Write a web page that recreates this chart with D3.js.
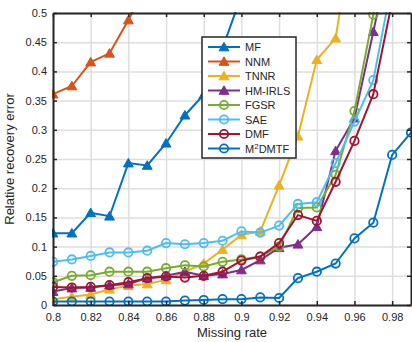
<!DOCTYPE html>
<html>
<head>
<meta charset="utf-8">
<script src="https://cdn.jsdelivr.net/npm/d3@7/dist/d3.min.js"></script>
<style>
  body { margin: 0; background: #fff; }
  svg { font-family: "Liberation Sans", Arial, Helvetica, sans-serif; }
</style>
</head>
<body>
<div id="chart"></div>
<script>
// missing rates (x)
const rates = [0.80, 0.81, 0.82, 0.83, 0.84, 0.85, 0.86, 0.87, 0.88, 0.89,
               0.90, 0.91, 0.92, 0.93, 0.94, 0.95, 0.96, 0.97, 0.98, 0.99];

// relative recovery error per method (series stop once they leave the plot)
const mfErr     = [0.123, 0.123, 0.158, 0.152, 0.243, 0.239, 0.277, 0.325, 0.360, 0.440, 0.530];
const nnmErr    = [0.361, 0.375, 0.416, 0.431, 0.488, 0.550];
const tnnrErr   = [0.010, 0.014, 0.018, 0.027, 0.033, 0.036, 0.043, 0.057, 0.071, 0.095,
                   0.120, 0.126, 0.205, 0.289, 0.420, 0.457, 0.660];
const hmirlsErr = [0.023, 0.029, 0.030, 0.034, 0.036, 0.046, 0.050, 0.057, 0.050, 0.053,
                   0.060, 0.077, 0.098, 0.104, 0.134, 0.264, 0.320, 0.468, 0.620];
const fgsrErr   = [0.039, 0.050, 0.051, 0.057, 0.057, 0.057, 0.063, 0.068, 0.066, 0.074,
                   0.078, 0.083, 0.100, 0.166, 0.167, 0.223, 0.332, 0.497, 0.650];
const saeErr    = [0.074, 0.078, 0.084, 0.090, 0.090, 0.093, 0.106, 0.104, 0.106, 0.110,
                   0.126, 0.124, 0.136, 0.173, 0.176, 0.243, 0.314, 0.385, 0.553];
const dmfErr    = [0.031, 0.030, 0.031, 0.034, 0.039, 0.046, 0.049, 0.047, 0.050, 0.057,
                   0.076, 0.083, 0.106, 0.154, 0.144, 0.211, 0.281, 0.361, 0.520];
const m2dmtfErr = [0.006, 0.006, 0.006, 0.006, 0.006, 0.006, 0.006, 0.0075, 0.0086, 0.010,
                   0.010, 0.013, 0.012, 0.046, 0.057, 0.071, 0.114, 0.141, 0.257, 0.295];

const xTicks = [0.80, 0.82, 0.84, 0.86, 0.88, 0.90, 0.92, 0.94, 0.96, 0.98];
const xTickLabels = ['0.8', '0.82', '0.84', '0.86', '0.88', '0.9', '0.92', '0.94', '0.96', '0.98'];
const yTicks = [0, 0.05, 0.1, 0.15, 0.2, 0.25, 0.3, 0.35, 0.4, 0.45, 0.5];
const yTickLabels = ['0', '0.05', '0.1', '0.15', '0.2', '0.25', '0.3', '0.35', '0.4', '0.45', '0.5'];

const series = [
  { name: 'MF',      values: mfErr,     color: '#0072BD', marker: 'tri' },
  { name: 'NNM',     values: nnmErr,    color: '#D95319', marker: 'tri' },
  { name: 'TNNR',    values: tnnrErr,   color: '#EDB120', marker: 'tri' },
  { name: 'HM-IRLS', values: hmirlsErr, color: '#7E2F8E', marker: 'tri' },
  { name: 'FGSR',    values: fgsrErr,   color: '#77AC30', marker: 'circ' },
  { name: 'SAE',     values: saeErr,    color: '#4DBEEE', marker: 'circ' },
  { name: 'DMF',     values: dmfErr,    color: '#A2142F', marker: 'circ' },
  { name: 'M2DMTF',  values: m2dmtfErr, color: '#0072BD', marker: 'circ' }
];

const W = 412, H = 342;
const margin = { top: 13, right: 1, bottom: 37, left: 53 };
const width = W - margin.left - margin.right;
const height = H - margin.top - margin.bottom;

const svg = d3.select('#chart').append('svg')
  .attr('width', W).attr('height', H);

const g = svg.append('g').attr('transform', `translate(${margin.left},${margin.top})`);

const x = d3.scaleLinear().domain([0.8, 0.99]).range([0, width]);
const y = d3.scaleLinear().domain([0, 0.5]).range([height, 0]);

// Grid
g.append('g')
  .call(d3.axisBottom(x).tickValues(xTicks).tickSize(height).tickFormat(''))
  .call(s => s.select('.domain').remove())
  .selectAll('line').attr('stroke', '#dedede').attr('stroke-width', 1.5);
g.append('g')
  .call(d3.axisLeft(y).tickValues(yTicks).tickSize(-width).tickFormat(''))
  .call(s => s.select('.domain').remove())
  .selectAll('line').attr('stroke', '#dedede').attr('stroke-width', 1.5);

// Lines + markers, clipped to plot
svg.append('clipPath').attr('id', 'clip')
  .append('rect').attr('x', -1).attr('y', -1).attr('width', width + 2).attr('height', height + 2);
const plot = g.append('g').attr('clip-path', 'url(#clip)');

const line = d3.line().x(d => x(d[0])).y(d => y(d[1]));
const tri = d3.symbol().type(d3.symbolTriangle).size(42);

series.forEach(s => {
  const pts = s.values.map((v, i) => [rates[i], v]);
  plot.append('path')
    .datum(pts)
    .attr('fill', 'none')
    .attr('stroke', s.color)
    .attr('stroke-width', 2)
    .attr('d', line);
  if (s.marker === 'tri') {
    plot.selectAll(null).data(pts).enter().append('path')
      .attr('d', tri)
      .attr('transform', d => `translate(${x(d[0])},${y(d[1]) + 1})`)
      .attr('fill', s.color).attr('stroke', s.color).attr('stroke-width', 1);
  } else {
    plot.selectAll(null).data(pts).enter().append('circle')
      .attr('cx', d => x(d[0])).attr('cy', d => y(d[1])).attr('r', 4.2)
      .attr('fill', 'none').attr('stroke', s.color).attr('stroke-width', 1.8);
  }
});

// Axes (box with inward ticks)
const axisColor = '#262626';
const axBottom = g.append('g').attr('transform', `translate(0,${height})`)
  .call(d3.axisBottom(x).tickValues(xTicks).tickSizeInner(-4).tickSizeOuter(0)
    .tickFormat((d, i) => xTickLabels[i]).tickPadding(8));
const axLeft = g.append('g')
  .call(d3.axisLeft(y).tickValues(yTicks).tickSizeInner(-4).tickSizeOuter(0)
    .tickFormat((d, i) => yTickLabels[i]).tickPadding(6));
const axTop = g.append('g')
  .call(d3.axisTop(x).tickValues(xTicks).tickSizeInner(-4).tickSizeOuter(0).tickFormat(''));
const axRight = g.append('g').attr('transform', `translate(${width},0)`)
  .call(d3.axisRight(y).tickValues(yTicks).tickSizeInner(-4).tickSizeOuter(0).tickFormat(''));

[axBottom, axLeft, axTop, axRight].forEach(a => {
  a.select('.domain').attr('stroke', axisColor).attr('stroke-width', 2);
  a.selectAll('.tick line').attr('stroke', axisColor).attr('stroke-width', 1.5);
  a.selectAll('text').attr('fill', axisColor).style('font-size', '11px');
});

// Axis labels
g.append('text')
  .attr('x', width / 2).attr('y', height + 32)
  .attr('text-anchor', 'middle').attr('fill', axisColor)
  .style('font-size', '13px').text('Missing rate');
g.append('text')
  .attr('transform', `translate(-39,${height / 2}) rotate(-90)`)
  .attr('text-anchor', 'middle').attr('fill', axisColor)
  .style('font-size', '13px').text('Relative recovery error');

// Legend
const legend = svg.append('g').attr('transform', 'translate(202,37)');
legend.append('rect')
  .attr('width', 94).attr('height', 121)
  .attr('fill', '#fff').attr('stroke', axisColor).attr('stroke-width', 1.5);

series.forEach((s, i) => {
  const ly = 10 + i * 14.5;
  const row = legend.append('g').attr('transform', `translate(0,${ly})`);
  row.append('line').attr('x1', 6).attr('x2', 38).attr('y1', 0).attr('y2', 0)
    .attr('stroke', s.color).attr('stroke-width', 2);
  if (s.marker === 'tri') {
    row.append('path').attr('d', tri).attr('transform', 'translate(22,1)')
      .attr('fill', s.color).attr('stroke', s.color);
  } else {
    row.append('circle').attr('cx', 22).attr('cy', 0).attr('r', 4.2)
      .attr('fill', 'none').attr('stroke', s.color).attr('stroke-width', 1.8);
  }
  const t = row.append('text').attr('x', 43).attr('y', 4)
    .attr('fill', axisColor).style('font-size', '11px');
  if (s.name === 'M2DMTF') {
    t.append('tspan').text('M');
    t.append('tspan').attr('dy', -4).style('font-size', '8px').text('2');
    t.append('tspan').attr('dy', 4).text('DMTF');
  } else {
    t.text(s.name);
  }
});
</script>
</body>
</html>
